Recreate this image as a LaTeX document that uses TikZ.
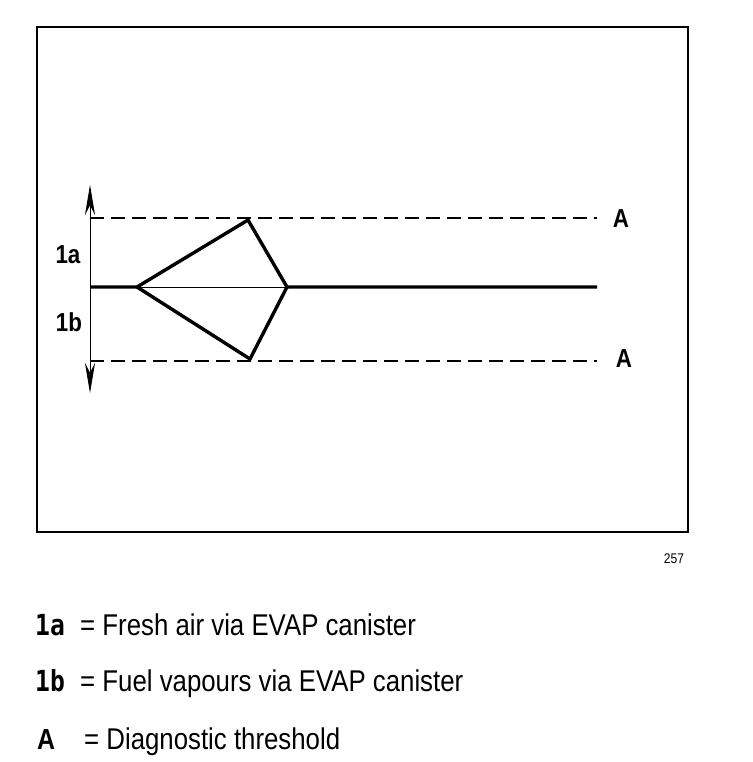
\documentclass[tikz,border=0pt]{standalone}
\usepackage{fontspec}
\setmainfont{Liberation Sans}
\newfontfamily\keyfont[FakeStretch=0.85]{DejaVu Sans Mono}
\newfontfamily\narrowfont[FakeStretch=0.86]{Liberation Sans}
\usetikzlibrary{arrows.meta}

\begin{document}
\begin{tikzpicture}[x=1pt, y=-1pt, >=Stealth,
  frame/.style={line width=2.6pt},
  trace/.style={line width=3.4pt, line join=miter},
  thres/.style={line width=1.1pt, dash pattern=on 14pt off 7pt},
  axis/.style={line width=0.8pt},
  lbl/.style={font=\narrowfont\fontsize{26}{28}\selectfont\bfseries},
  legkey/.style={anchor=base west, inner sep=0pt, font=\keyfont\fontsize{29}{32}\selectfont\bfseries},
  legtext/.style={anchor=base west, inner sep=0pt, font=\narrowfont\fontsize{30}{32}\selectfont}
]
\useasboundingbox (0,0) rectangle (752,762);
\draw[frame] (37,27) rectangle (688,532);

% axis and thresholds
\coordinate (top) at (90,185);
\coordinate (bot) at (90,393);
\coordinate (up0) at (90,218);
\coordinate (up1) at (597,218);
\coordinate (lo0) at (90,361);
\coordinate (lo1) at (597,361);
\coordinate (mid0) at (90,287);
\coordinate (mid1) at (597,287);
\coordinate (split) at (137,287);
\coordinate (peak) at (248,220);
\coordinate (join) at (287,287);
\coordinate (dip) at (250,359);

\draw[axis, <->, >={Stealth[length=30pt, width=10pt]}] (top) -- (bot);
\draw[thres] (up0) -- (up1);
\draw[thres] (lo0) -- (lo1);
\draw[axis] (split) -- (join);

% signal
\draw[trace] (mid0) -- (split) -- (peak) -- (join) -- (mid1);
\draw[trace] (split) -- (dip) -- (join);

\node[lbl] (l1a) at (68,255) {1a};
\node[lbl] (l1b) at (69,322) {1b};
\node[lbl] (thA) at (621,219) {A};
\node[lbl] (thB) at (624,359) {A};
\node[font=\narrowfont\fontsize{14}{16}\selectfont] (fig) at (674,559) {257};

% legend
\node[legkey] (k1a) at (35,635) {1a};
\node[legtext] (t1a) at (80,635) {= Fresh air via EVAP canister};
\node[legkey] (k1b) at (35,691) {1b};
\node[legtext] (t1b) at (80,691) {= Fuel vapours via EVAP canister};
\node[legtext, font=\narrowfont\fontsize{29}{32}\selectfont\bfseries] (kA) at (37,749) {A};
\node[legtext] (tA) at (84,749) {= Diagnostic threshold};
\end{tikzpicture}
\end{document}
